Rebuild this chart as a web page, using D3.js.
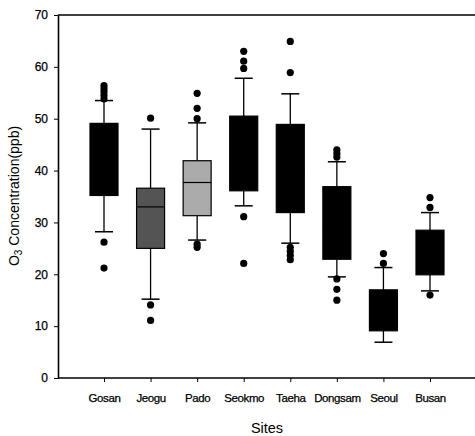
<!DOCTYPE html>
<html><head><meta charset="utf-8">
<script src="https://cdn.jsdelivr.net/npm/d3@7"></script>
<style>
html,body{margin:0;padding:0;background:#fff;}
svg{display:block;font-family:"Liberation Sans",Arial,sans-serif;}
</style></head>
<body><svg id="c" width="475" height="436"></svg>
<script>
const sites = ["Gosan","Jeogu","Pado","Seokmo","Taeha","Dongsam","Seoul","Busan"];
const whiskerLow  = [28.2, 15.2, 26.6, 33.2, 26.0, 19.5, 6.9, 16.8];
const q1          = [35.2, 25.0, 31.3, 36.1, 31.9, 22.9, 9.1, 19.9];
const median      = [41.0, 33.0, 37.7, 43.0, 40.0, 29.0, 13.0, 24.0];
const q3          = [49.1, 36.6, 41.9, 50.5, 48.9, 36.9, 17.0, 28.5];
const whiskerHigh = [53.5, 48.0, 49.2, 57.8, 54.8, 41.7, 21.3, 31.9];
const outliers = [
  [21.2, 26.2, 53.8, 54.5, 55.2, 55.8, 56.4],
  [11.1, 14.1, 50.1],
  [25.2, 25.8, 50.0, 52.0, 54.9],
  [22.1, 31.1, 59.7, 61.1, 63.0],
  [22.8, 23.6, 24.4, 25.2, 58.9, 64.9],
  [15.0, 17.1, 19.1, 42.6, 43.3, 44.0],
  [22.1, 24.0],
  [16.0, 32.9, 34.8]
];
const yTicks = [0,10,20,30,40,50,60,70];

const svg = d3.select("#c");
const mLeft = 58, mTop = 15, mBottom = 378, mRight = 476;
const y = d3.scaleLinear().domain([0,70]).range([mBottom, mTop]);
const x = d3.scalePoint().domain(sites).range([104, 430]);
const fill = d3.scaleOrdinal().domain(sites)
  .range(["#000","#545454","#ababab","#000","#000","#000","#000","#000"]);

svg.append("line").attr("x1",mLeft).attr("x2",mRight).attr("y1",mTop).attr("y2",mTop)
  .attr("stroke","#000").attr("stroke-width",1.5);

const ya = svg.append("g").attr("transform",`translate(${mLeft},0)`)
  .call(d3.axisLeft(y).tickValues(yTicks).tickSize(4).tickPadding(6).tickSizeOuter(0));
ya.select(".domain").attr("stroke-width",1.6);
ya.selectAll("text").attr("font-size",12).attr("fill","#000")
  .attr("stroke","#000").attr("stroke-width",0.25);

const xa = svg.append("g").attr("transform",`translate(0,${mBottom})`)
  .call(d3.axisBottom(x).tickSize(4).tickPadding(12).tickSizeOuter(0));
xa.select(".domain").attr("d",`M${mLeft},0H${mRight}`).attr("stroke-width",1.5);
xa.selectAll("text").attr("font-size",11.5).attr("letter-spacing","-0.4px").attr("fill","#000")
  .attr("stroke","#000").attr("stroke-width",0.25);

const bw = 28, cw = 18;
const g = svg.append("g");
sites.forEach((s,i)=>{
  const cx = x(s);
  const gg = g.append("g");
  gg.append("line").attr("x1",cx).attr("x2",cx).attr("y1",y(whiskerHigh[i])).attr("y2",y(q3[i]))
    .attr("stroke","#000").attr("stroke-width",1.3);
  gg.append("line").attr("x1",cx).attr("x2",cx).attr("y1",y(q1[i])).attr("y2",y(whiskerLow[i]))
    .attr("stroke","#000").attr("stroke-width",1.3);
  [whiskerHigh[i], whiskerLow[i]].forEach(v=>{
    gg.append("line").attr("x1",cx-cw/2).attr("x2",cx+cw/2).attr("y1",y(v)).attr("y2",y(v))
      .attr("stroke","#000").attr("stroke-width",1.5);
  });
  gg.append("rect").attr("x",cx-bw/2).attr("width",bw)
    .attr("y",y(q3[i])).attr("height",y(q1[i])-y(q3[i]))
    .attr("fill",fill(s)).attr("stroke","#000").attr("stroke-width",1.2);
  gg.append("line").attr("x1",cx-bw/2).attr("x2",cx+bw/2).attr("y1",y(median[i])).attr("y2",y(median[i]))
    .attr("stroke","#000").attr("stroke-width",1.2);
  gg.selectAll("circle").data(outliers[i]).join("circle")
    .attr("cx",cx).attr("cy",d=>y(d)).attr("r",3.6).attr("fill","#000");
});

svg.append("text").attr("x",267).attr("y",433).attr("text-anchor","middle")
  .attr("font-size",14.5).attr("fill","#000").text("Sites");
const yt = svg.append("text").attr("transform","translate(19,196) rotate(-90)")
  .attr("text-anchor","middle").attr("font-size",14).attr("fill","#000");
yt.append("tspan").text("O");
yt.append("tspan").attr("font-size",10).attr("dy",3).text("3");
yt.append("tspan").attr("dy",-3).text(" Concentration(ppb)");
</script></body></html>
